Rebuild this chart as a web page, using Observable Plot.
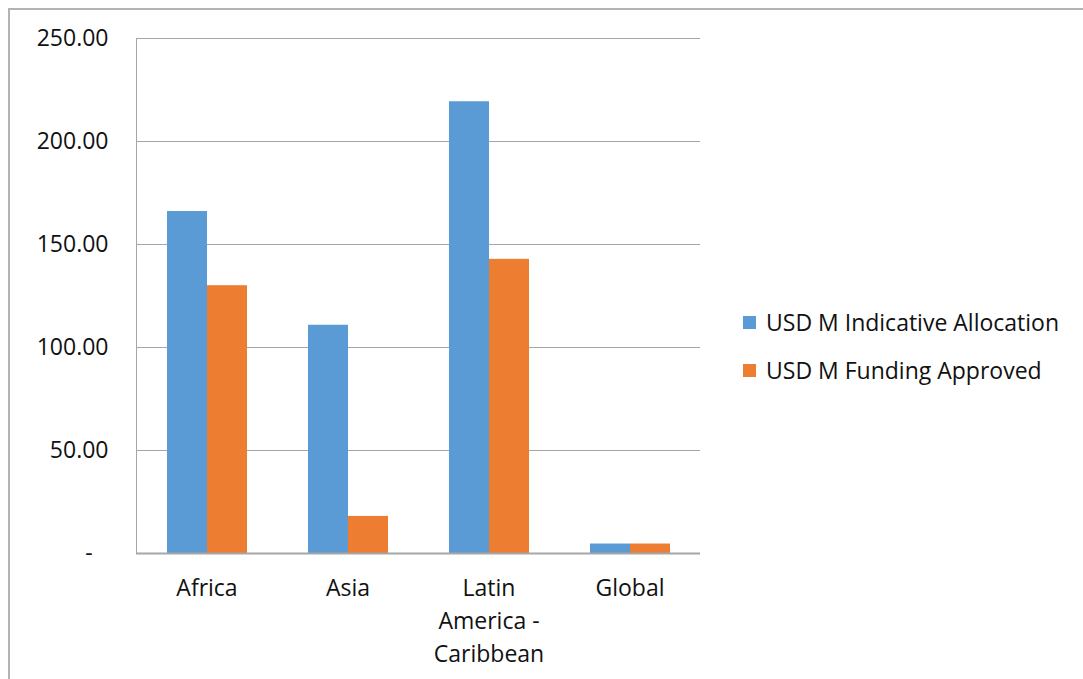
<!DOCTYPE html>
<html><head><meta charset="utf-8">
<script src="https://cdn.jsdelivr.net/npm/d3@7"></script>
<script src="https://cdn.jsdelivr.net/npm/@observablehq/plot@0.6"></script>
<style>
html,body{margin:0;padding:0;background:#fff;}
#wrap{position:relative;width:1083px;height:679px;overflow:hidden;font-family:"Open Sans",sans-serif;}
#frame{position:absolute;left:8px;top:8px;width:1100px;height:700px;border-left:2px solid #b3b3b3;border-top:2px solid #b3b3b3;}
#yline{position:absolute;left:136px;top:38px;width:1px;height:515px;background:#a6a6a6;}
#chart{position:absolute;left:0;top:0;}
#legend{position:absolute;left:743px;top:298px;font-size:23px;color:#111;}
.item{display:flex;align-items:center;height:48px;}
.sw{width:13px;height:13px;margin-right:10px;}
</style></head>
<body><div id="wrap"><div id="frame"></div><div id="chart"></div><div id="yline"></div><div id="legend"></div></div>
<script>
const categories = ["Africa", "Asia", "Latin America - Caribbean", "Global"];
const categoryLabels = ["Africa", "Asia", "Latin\nAmerica -\nCaribbean", "Global"];
const seriesNames = ["USD M Indicative Allocation", "USD M Funding Approved"];
const indicativeAllocation = [166.0, 110.8, 219.3, 4.6];
const fundingApproved = [130.0, 18.0, 142.8, 4.6];
const colors = ["#5B9BD5", "#ED7D31"];
const yTicks = [0, 50, 100, 150, 200, 250];

const data = [];
categories.forEach((c, i) => {
  data.push({category: c, series: seriesNames[0], value: indicativeAllocation[i]});
  data.push({category: c, series: seriesNames[1], value: fundingApproved[i]});
});
const labelOf = Object.fromEntries(categories.map((c, i) => [c, categoryLabels[i]]));

const chart = Plot.plot({
  width: 1083, height: 679,
  marginLeft: 136, marginRight: 383, marginTop: 38, marginBottom: 126,
  style: {fontFamily: "'Open Sans', sans-serif", fontSize: "23px", color: "#111", background: "transparent"},
  x: {domain: seriesNames, paddingInner: 0, paddingOuter: 0.72, axis: null},
  fx: {domain: categories, padding: 0, label: null},
  y: {domain: [0, 250], ticks: yTicks, label: null, axis: null},
  color: {domain: seriesNames, range: colors},
  marks: [
    Plot.gridY(yTicks.filter(d => d > 0), {stroke: "#a6a6a6", strokeOpacity: 1, strokeWidth: 1}),
    Plot.axisY(yTicks, {tickSize: 0, tickPadding: 28, fontSize: 23, tickFormat: d => d === 0 ? "-\u00a0\u00a0\u2009" : d3.format(".2f")(d), label: null}),
    Plot.barY(data, {fx: "category", x: "series", y: "value", fill: "series", insetLeft: 0, insetRight: 0}),
    Plot.ruleY([0], {stroke: "#a6a6a6", strokeWidth: 2}),
    Plot.axisFx({tickSize: 0, tickPadding: 19, fontSize: 23, lineHeight: 1.43, tickFormat: d => labelOf[d], label: null, anchor: "bottom"})
  ]
});
document.getElementById("chart").appendChild(chart);

const legend = document.getElementById("legend");
seriesNames.forEach((s, i) => {
  const it = document.createElement("div"); it.className = "item";
  const sw = document.createElement("div"); sw.className = "sw"; sw.style.background = colors[i];
  const t = document.createElement("span"); t.textContent = s;
  it.appendChild(sw); it.appendChild(t); legend.appendChild(it);
});
</script></body></html>
